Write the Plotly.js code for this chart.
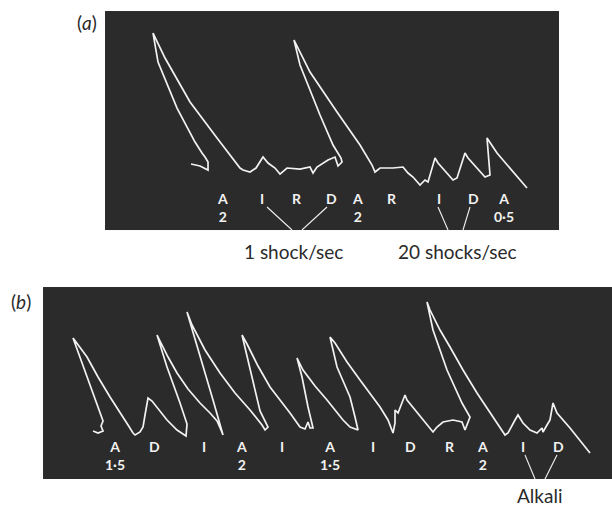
<!DOCTYPE html>
<html>
<head>
<meta charset="utf-8">
<script src="https://cdn.plot.ly/plotly-3.0.1.min.js"></script>
<style>html,body{margin:0;padding:0;background:#fff;}#chart{width:612px;height:508px;}</style>
</head>
<body>
<div id="chart"></div>
<script>
// ---- Panel (a): kymograph trace (x = drum travel, y = tension, arbitrary units)
var traceAx = [86,95,103,103,100,97,90,72,53,48,60,85,112,135,138,145,151,158,163,170,175,182,195,205,208,212,223,230,233,237,236,228,215,195,189,205,232,255,267,270,275,288,298,303,308,315,320,323,330,333,348,352,360,363,380,385,382,387,392,422];
var traceAy = [66,64,60,68,73,77,88,122,168,197,172,128,92,62,60,58,62,73,67,62,56,62,61,63,57,63,70,73,64,68,72,85,115,165,190,158,118,85,65,58,62,62,63,57,53,45,50,48,72,67,50,52,77,72,53,55,92,85,77,42];

// labels under trace (a): letter + dose (blank if none)
var labelsA = ["A","I","R","D","A","R","I","D","A"];
var dosesA  = ["2","","","","2","","","","0·5"];
var labelsAx = [117,157,192,226,252,287,334,368,399];
// pointer lines (a): pairs of [label end, panel edge]
var ptrA1x = [162,187], ptrA1y = [23,0];
var ptrA2x = [222,197], ptrA2y = [23,0];
var ptrA3x = [333,343], ptrA3y = [23,0];
var ptrA4x = [365,358], ptrA4y = [23,0];

// ---- Panel (b)
var traceBx = [50,55,60,58,60,54,41,30,44,55,67,79,85,90,92,97,100,102,105,109,117,124,134,143,144,137,124,114,125,134,145,157,167,174,178,180,170,157,144,149,162,177,192,207,219,222,225,217,209,199,204,215,227,238,247,257,262,265,267,270,265,259,254,260,272,284,300,307,314,315,312,307,294,287,292,304,317,329,337,345,350,352,352,355,362,364,380,390,394,400,410,419,422,425,427,419,404,390,384,387,397,407,420,434,445,454,462,465,469,472,475,480,487,494,499,500,504,507,510,514,527,547];
var traceBy = [48,46,48,53,58,75,112,141,122,102,82,64,54,46,44,47,52,64,81,78,68,59,49,43,55,76,112,144,122,106,90,76,66,58,49,44,79,124,167,154,129,106,86,69,54,49,52,68,102,144,135,113,92,78,66,52,50,57,51,51,72,102,121,109,93,79,59,52,49,49,62,82,112,142,136,117,99,83,72,59,46,56,69,66,84,79,59,47,52,57,59,57,49,56,62,76,109,149,177,169,149,132,109,86,69,56,44,46,54,59,64,56,49,46,51,47,54,59,76,66,51,26];

var labelsB = ["A","D","I","A","I","A","I","D","R","A","I","D"];
var dosesB  = ["1·5","","","2","","1·5","","","","2","",""];
var labelsBx = [72,111,161,198,239,287,330,367,407,439,480,515];
var ptrB1x = [482,492], ptrB1y = [24,0];
var ptrB2x = [514,502], ptrB2y = [24,0];

var captions = ["1 shock/sec","20 shocks/sec","Alkali"];

var white = '#f2f2f2';
var lineStyle = {color: white, width: 1.7};
var ptrStyle = {color: white, width: 1.1};

function ln(x, y, xa, ya, st) {
  return {x: x, y: y, xaxis: xa, yaxis: ya, type: 'scatter', mode: 'lines',
          line: st, hoverinfo: 'skip', showlegend: false};
}

var data = [
  ln(traceAx, traceAy, 'x', 'y', lineStyle),
  ln(ptrA1x, ptrA1y, 'x', 'y', ptrStyle),
  ln(ptrA2x, ptrA2y, 'x', 'y', ptrStyle),
  ln(ptrA3x, ptrA3y, 'x', 'y', ptrStyle),
  ln(ptrA4x, ptrA4y, 'x', 'y', ptrStyle),
  ln(traceBx, traceBy, 'x2', 'y2', lineStyle),
  ln(ptrB1x, ptrB1y, 'x2', 'y2', ptrStyle),
  ln(ptrB2x, ptrB2y, 'x2', 'y2', ptrStyle)
];

var lblFont = {family: 'Lato, "Open Sans", sans-serif', size: 14, color: white, weight: 700};
var ann = [];
function addLabels(letters, doses, xs, xr, yr, ytop) {
  letters.forEach(function (t, i) {
    var txt = '<b>' + t + (doses[i] ? '<br>' + doses[i] : '') + '</b>';
    ann.push({text: txt, x: xs[i], y: ytop, xref: xr, yref: yr, showarrow: false,
              xanchor: 'center', yanchor: 'top', align: 'center', font: lblFont, borderpad: 0});
  });
}
addLabels(labelsA, dosesA, labelsAx, 'x', 'y', 41);
addLabels(labelsB, dosesB, labelsBx, 'x2', 'y2', 42);

var capFont = {family: 'Lato, "Open Sans", sans-serif', size: 19, color: '#2a2a2a'};
function cap(t, x, y) {
  ann.push({text: t, x: x, y: y, xref: 'paper', yref: 'paper', showarrow: false,
            xanchor: 'center', yanchor: 'middle', font: capFont});
}
cap(captions[0], 0.480, 0.504);
cap(captions[1], 0.747, 0.504);
cap(captions[2], 0.881, 0.025);
cap('(<i>a</i>)', 0.142, 0.955);
cap('(<i>b</i>)', 0.034, 0.406);

function ax(dom, rng) {
  return {domain: dom, range: rng, showgrid: false, zeroline: false, showticklabels: false,
          ticks: '', showline: false, fixedrange: true};
}

var layout = {
  width: 612, height: 508,
  margin: {l: 0, r: 0, t: 0, b: 0},
  paper_bgcolor: '#ffffff',
  plot_bgcolor: '#2b2b2b',
  showlegend: false,
  xaxis: ax([0.1716, 0.9134], [0, 454]),
  yaxis: ax([0.5472, 0.9783], [0, 219]),
  xaxis2: ax([0.0703, 1.0], [0, 569]),
  yaxis2: ax([0.0571, 0.435], [0, 192]),
  annotations: ann
};
layout.yaxis2.anchor = 'x2';
layout.xaxis2.anchor = 'y2';

Plotly.newPlot('chart', data, layout, {staticPlot: true, displayModeBar: false});
</script>
</body>
</html>
